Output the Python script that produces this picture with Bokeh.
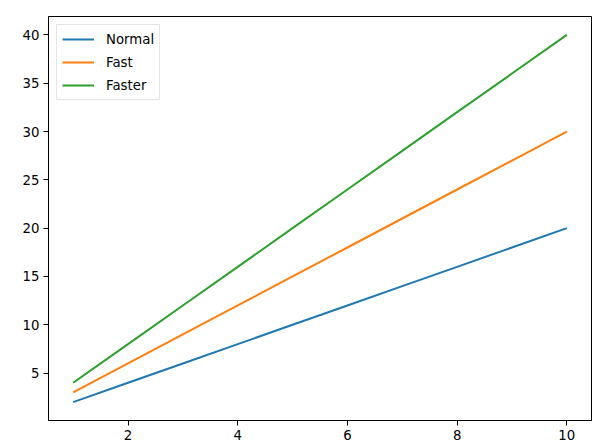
from bokeh.plotting import figure
from bokeh.models import Range1d, FixedTicker, Legend, LegendItem
from bokeh.embed import file_html
from bokeh.resources import INLINE

x = [1, 2, 3, 4, 5, 6, 7, 8, 9, 10]
normal = [2, 4, 6, 8, 10, 12, 14, 16, 18, 20]
fast = [3, 6, 9, 12, 15, 18, 21, 24, 27, 30]
faster = [4, 8, 12, 16, 20, 24, 28, 32, 36, 40]
series_names = ["Normal", "Fast", "Faster"]
colors = ["#1f77b4", "#ff7f0e", "#2ca02c"]
x_ticks = [2, 4, 6, 8, 10]
y_ticks = [5, 10, 15, 20, 25, 30, 35, 40]

p = figure(width=600, height=448, output_backend="svg", toolbar_location=None,
           x_range=Range1d(0.55, 10.45), y_range=Range1d(0.1, 41.9),
           min_border_left=48, min_border_top=16, min_border_right=9, min_border_bottom=28)

items = []
for name, ys, c in zip(series_names, [normal, fast, faster], colors):
    r = p.line(x, ys, line_color=c, line_width=2)
    items.append(LegendItem(label=name, renderers=[r]))

legend = Legend(items=items, location="top_left")
legend.label_text_font = "DejaVu Sans"
legend.label_text_font_size = "13.3px"
legend.label_text_color = "black"
legend.glyph_width = 32
legend.glyph_height = 18
legend.label_height = 18
legend.spacing = 5
legend.padding = 5
legend.margin = 8
legend.label_standoff = 12
legend.border_line_color = "#cccccc"
legend.border_line_width = 1
legend.background_fill_alpha = 0.8
p.add_layout(legend)

p.xgrid.visible = False
p.ygrid.visible = False
p.outline_line_color = "black"
p.outline_line_width = 1
p.outline_line_alpha = 1

for ax in [p.xaxis[0], p.yaxis[0]]:
    ax.axis_line_color = "black"
    ax.major_tick_line_color = "black"
    ax.major_tick_out = 5
    ax.major_tick_in = 0
    ax.minor_tick_line_color = None
    ax.major_label_text_font = "DejaVu Sans"
    ax.major_label_text_font_size = "13.3px"
    ax.major_label_text_color = "black"
    ax.major_label_standoff = 4

p.xaxis[0].ticker = FixedTicker(ticks=x_ticks)
p.yaxis[0].ticker = FixedTicker(ticks=y_ticks)

open("out.html", "w").write(file_html(p, INLINE))
